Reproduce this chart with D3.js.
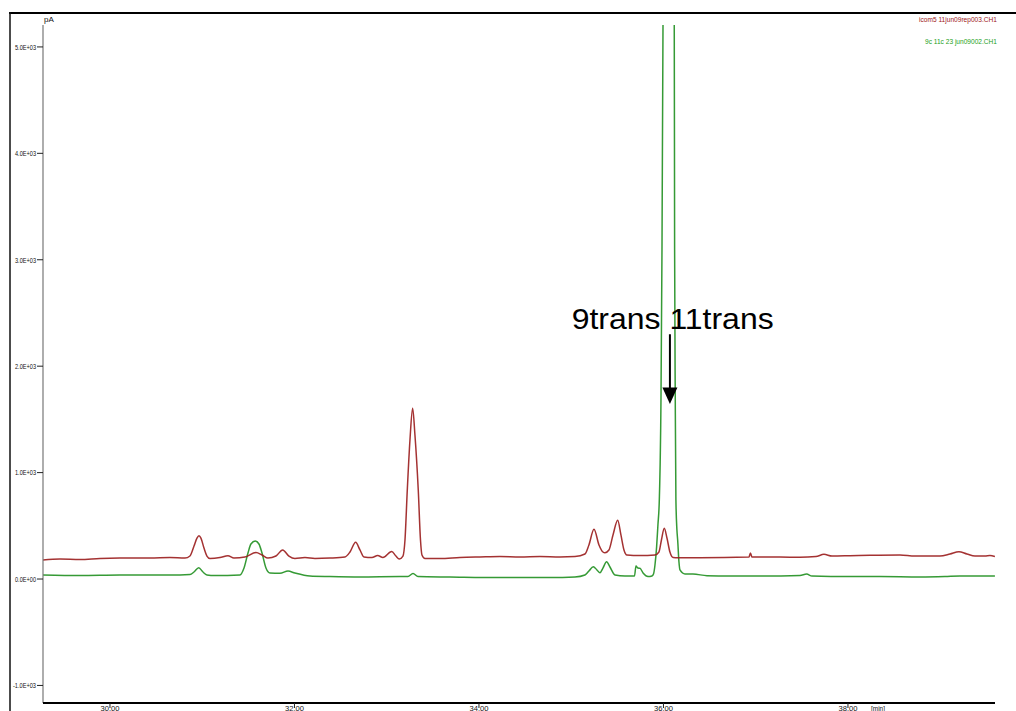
<!DOCTYPE html>
<html>
<head>
<meta charset="utf-8">
<script src="https://cdn.jsdelivr.net/npm/d3@7"></script>
<style>
  html, body { margin: 0; padding: 0; background: #fff; }
  svg { display: block; }
  .small { font-family: "Liberation Sans", Arial, sans-serif; }
</style>
</head>
<body>
<svg id="chart" width="1016" height="711"></svg>
<script>
// Retention time (min) and detector signal (pA) for the two GC runs.
const redTime = [29.274, 29.458, 29.675, 29.892, 30.108, 30.434, 30.650, 30.813, 30.867, 30.911,
  30.943, 30.965, 30.986, 31.019, 31.051, 31.084, 31.192, 31.279, 31.344, 31.463,
  31.583, 31.648, 31.713, 31.799, 31.872, 31.940, 32.005, 32.114, 32.222, 32.385,
  32.547, 32.602, 32.663, 32.710, 32.753, 32.840, 32.902, 32.959, 33.054, 33.100,
  33.136, 33.176, 33.198, 33.223, 33.252, 33.281, 33.306, 33.342, 33.366, 33.382,
  33.415, 33.577, 33.794, 34.011, 34.228, 34.444, 34.661, 34.878, 35.041, 35.149,
  35.192, 35.247, 35.301, 35.344, 35.366, 35.409, 35.453, 35.504, 35.539, 35.572,
  35.604, 35.745, 35.908, 35.951, 35.978, 36.009, 36.038, 36.070, 36.106, 36.157,
  36.396, 36.927, 36.943, 36.959, 37.263, 37.480, 37.653, 37.740, 37.827, 38.022,
  38.238, 38.564, 38.726, 38.997, 39.106, 39.203, 39.290, 39.377, 39.485, 39.539,
  39.593];
const redSignal = [179, 188, 183, 193, 197, 197, 202, 197, 216, 310,
  385, 407, 385, 291, 216, 193, 202, 219, 197, 207,
  249, 226, 197, 216, 273, 216, 193, 202, 193, 197,
  207, 254, 345, 273, 207, 202, 221, 202, 258, 216,
  188, 216, 367, 836, 1306, 1605, 1353, 836, 367, 226,
  193, 193, 202, 207, 211, 207, 211, 207, 211, 235,
  320, 467, 320, 254, 247, 273, 414, 552, 414, 273,
  226, 221, 226, 254, 367, 476, 385, 254, 202, 200,
  200, 207, 244, 207, 207, 204, 211, 232, 216, 219,
  223, 226, 216, 216, 235, 257, 235, 216, 216, 221,
  211];

const greenTime = [29.274, 29.675, 30.108, 30.434, 30.759, 30.867, 30.911, 30.962, 31.008, 31.051,
  31.138, 31.409, 31.453, 31.496, 31.528, 31.575, 31.615, 31.648, 31.691, 31.734,
  31.843, 31.930, 32.005, 32.168, 32.385, 32.710, 33.144, 33.230, 33.285, 33.339,
  33.686, 34.228, 34.770, 35.041, 35.149, 35.192, 35.239, 35.279, 35.312, 35.344,
  35.384, 35.420, 35.474, 35.583, 35.686, 35.702, 35.724, 35.745, 35.781, 35.832,
  35.875, 35.892, 35.908, 35.926, 35.940, 35.955, 35.973, 35.984, 35.995, 36.054,
  36.117, 36.121, 36.128, 36.135, 36.146, 36.154, 36.168, 36.179, 36.233, 36.320,
  36.472, 36.721, 37.046, 37.480, 37.552, 37.610, 38.022, 38.347, 38.780, 39.051,
  39.214, 39.431, 39.593];
const greenSignal = [38, 33, 38, 38, 38, 42, 66, 106, 66, 38,
  33, 38, 103, 244, 329, 357, 329, 244, 103, 56,
  54, 75, 56, 28, 23, 19, 23, 23, 52, 23,
  19, 14, 14, 19, 38, 75, 116, 85, 59, 103,
  163, 113, 38, 28, 28, 122, 103, 101, 54, 23,
  28, 47, 132, 304, 508, 742, 1682, 3092, 5206, 9000,
  5206, 3092, 1682, 742, 460, 367, 160, 85, 47, 47,
  31, 28, 28, 33, 47, 28, 23, 23, 19, 23,
  28, 28, 28];

const yTicks = [-1000, 0, 1000, 2000, 3000, 4000, 5000];
const yTickLabels = ["-1.0E+03", "0.0E+00", "1.0E+03", "2.0E+03", "3.0E+03", "4.0E+03", "5.0E+03"];
const xTicks = [30, 32, 34, 36, 38];
const xTickLabels = ["30.00", "32.00", "34.00", "36.00", "38.00"];
const traceNames = ["icom5 11jun09rep003.CH1", "9c 11c 23 jun09002.CH1"];
const peakLabel = "9trans 11trans";

const svg = d3.select("#chart");
const plot = { left: 43, right: 995, top: 25, bottom: 703 };

const x = d3.scaleLinear().domain([29.274, 39.594]).range([plot.left, plot.right]);
const y = d3.scaleLinear().domain([-1165, 5206]).range([plot.bottom, plot.top]);

// outer frame: top rule and left rule
svg.append("line").attr("x1", 9).attr("x2", 1016).attr("y1", 13).attr("y2", 13)
  .attr("stroke", "#000").attr("stroke-width", 2);
svg.append("line").attr("x1", 10).attr("x2", 10).attr("y1", 12).attr("y2", 711)
  .attr("stroke", "#111").attr("stroke-width", 1.5);

svg.append("defs").append("clipPath").attr("id", "plotClip")
  .append("rect").attr("x", plot.left).attr("y", plot.top)
  .attr("width", plot.right - plot.left).attr("height", plot.bottom - plot.top);

// traces
const line = d3.line().curve(d3.curveMonotoneX).x(d => x(d[0])).y(d => y(d[1]));
const traces = [
  { t: greenTime, v: greenSignal, color: "#1f8f1f" },
  { t: redTime, v: redSignal, color: "#9a1c1c" }
];
const g = svg.append("g").attr("clip-path", "url(#plotClip)");
traces.forEach(tr => {
  const pts = tr.t.map((t, i) => [t, tr.v[i]]);
  g.append("path").datum(pts).attr("d", line)
    .attr("fill", "none").attr("stroke", tr.color).attr("stroke-width", 1.5)
    .attr("stroke-linejoin", "round").attr("stroke-opacity", 0.9);
});

// y axis
const yAxis = svg.append("g");
yAxis.append("line").attr("x1", plot.left).attr("x2", plot.left)
  .attr("y1", plot.top).attr("y2", plot.bottom)
  .attr("stroke", "#777").attr("stroke-width", 1.2);
yTicks.forEach((v, i) => {
  yAxis.append("line").attr("x1", plot.left - 6).attr("x2", plot.left)
    .attr("y1", y(v)).attr("y2", y(v)).attr("stroke", "#222").attr("stroke-width", 1);
  yAxis.append("text").attr("class", "small")
    .attr("x", 36).attr("y", y(v) + 2.8)
    .attr("text-anchor", "end").attr("font-size", 7.5).attr("fill", "#111")
    .attr("textLength", yTickLabels[i].length > 7 ? 23 : 21)
    .attr("lengthAdjust", "spacingAndGlyphs")
    .text(yTickLabels[i]);
});
yAxis.append("text").attr("class", "small")
  .attr("x", plot.left + 1).attr("y", 22).attr("font-size", 8).attr("fill", "#111")
  .text("pA");

// x axis
const xAxis = svg.append("g");
xAxis.append("line").attr("x1", plot.left).attr("x2", plot.right)
  .attr("y1", plot.bottom).attr("y2", plot.bottom)
  .attr("stroke", "#000").attr("stroke-width", 2);
xTicks.forEach((t, i) => {
  xAxis.append("line").attr("x1", x(t)).attr("x2", x(t))
    .attr("y1", plot.bottom).attr("y2", plot.bottom + 5)
    .attr("stroke", "#222").attr("stroke-width", 1);
  xAxis.append("text").attr("class", "small")
    .attr("x", x(t)).attr("y", 710.5).attr("text-anchor", "middle")
    .attr("font-size", 7.5).attr("fill", "#111")
    .attr("textLength", 19).attr("lengthAdjust", "spacingAndGlyphs")
    .text(xTickLabels[i]);
});
xAxis.append("text").attr("class", "small")
  .attr("x", 871).attr("y", 710.5).attr("font-size", 7.5).attr("fill", "#111")
  .attr("textLength", 14).attr("lengthAdjust", "spacingAndGlyphs")
  .text("[min]");

// trace names, top right
const nameColors = ["#a01818", "#22a022"];
const nameWidths = [78, 72];
[22, 44].forEach((by, i) => {
  svg.append("text").attr("class", "small")
    .attr("x", 997).attr("y", by).attr("text-anchor", "end")
    .attr("font-size", 7).attr("fill", nameColors[i])
    .attr("textLength", nameWidths[i]).attr("lengthAdjust", "spacingAndGlyphs")
    .text(traceNames[i]);
});

// peak annotation with downward arrow
const arrowT = 36.07;
svg.append("text")
  .attr("x", x(35.005)).attr("y", y(2350))
  .attr("font-family", "Liberation Sans, Arial, sans-serif")
  .attr("font-size", 30).attr("fill", "#000")
  .attr("textLength", 202).attr("lengthAdjust", "spacingAndGlyphs")
  .text(peakLabel);
const ax = x(arrowT);
svg.append("line").attr("x1", ax).attr("x2", ax)
  .attr("y1", y(2300)).attr("y2", y(1770))
  .attr("stroke", "#000").attr("stroke-width", 2);
svg.append("path")
  .attr("d", `M${ax - 7.5},${y(1800)} L${ax + 7.5},${y(1800)} L${ax},${y(1645)} Z`)
  .attr("fill", "#000");
</script>
</body>
</html>
